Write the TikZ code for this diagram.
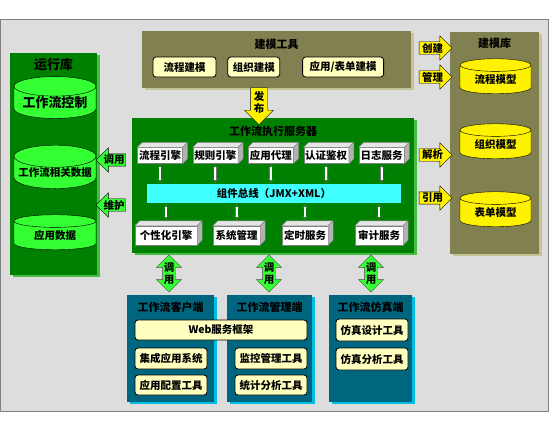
\documentclass[tikz,border=0pt]{standalone}
\usepackage{fontspec}
\setmainfont{Noto Sans CJK SC}
\usetikzlibrary{positioning,shapes.geometric,shapes.arrows,shadows,arrows.meta}

\definecolor{framegray}{RGB}{221,221,221}
\definecolor{modelolive}{RGB}{128,128,80}
\definecolor{oliveedge}{RGB}{196,196,150}
\definecolor{rungreen}{RGB}{0,128,0}
\definecolor{greenedge}{RGB}{70,190,70}
\definecolor{lightgreen}{RGB}{51,255,51}
\definecolor{busblue}{RGB}{64,255,255}
\definecolor{clientteal}{RGB}{0,102,128}
\definecolor{tealedge}{RGB}{0,190,225}
\definecolor{paleyellow}{RGB}{255,255,192}

\tikzset{
  oliveblock/.style={rectangle,inner sep=0pt,fill=modelolive,
    general shadow={fill=oliveedge,shadow xshift=3pt,shadow yshift=-2pt}},
  greenblock/.style={rectangle,inner sep=0pt,fill=rungreen,
    general shadow={fill=greenedge,shadow xshift=3pt,shadow yshift=-2pt}},
  tealblock/.style={rectangle,inner sep=0pt,fill=clientteal,
    general shadow={fill=tealedge,shadow xshift=3pt,shadow yshift=-2pt}},
  paneltitle/.style={inner sep=0pt,text=black,font=\bfseries\fontsize{11}{12}\selectfont},
  toolbox/.style={draw=black,line width=0.8pt,fill=paleyellow,rounded corners=3pt,
    minimum height=20pt,inner sep=1pt},
  store/.style={cylinder,shape border rotate=90,aspect=0.3,draw=black,
    cylinder uses custom fill,cylinder body fill=#1,cylinder end fill=#1,
    minimum height=35pt,inner sep=0pt},
  engine/.style={rectangle,draw=gray,fill=white,inner sep=0pt},
  link/.style={draw=black!55,double=white,double distance=2pt,
    {Implies}-{Implies},shorten <=1pt,shorten >=1pt},
  flowarrow/.style={single arrow,draw=black,fill=#1,single arrow head extend=6pt,
    inner sep=1pt,minimum height=33pt},
  callarrow/.style={double arrow,draw=black!70,fill=lightgreen,shape border rotate=90,
    double arrow head extend=6pt,inner sep=1pt,minimum height=37pt,align=center}
}

\begin{document}
\begin{tikzpicture}[x=1pt,y=-1pt,font=\bfseries\fontsize{10.5}{12}\selectfont]
  \useasboundingbox (0,0) rectangle (554,421);
  \draw[fill=framegray,draw=gray] (0.5,19) rectangle (548,411);

  % modelling tools
  \node[oliveblock,minimum width=269pt,minimum height=57pt] (tools) at (276.5,59.5) {};
  \node[paneltitle,below=8pt of tools.north] (toolstitle) {建模工具};
  \node[toolbox,minimum width=63pt] (flowtool) at (184.5,67) {流程建模};
  \node[toolbox,minimum width=52pt,right=11pt of flowtool] (orgtool) {组织建模};
  \node[toolbox,minimum width=81pt,right=22pt of orgtool] (apptool) {应用/表单建模};

  % model library
  \node[oliveblock,minimum width=89pt,minimum height=222pt] (modellib) at (494.5,143) {};
  \node[paneltitle,below=6pt of modellib.north] (modeltitle) {建模库};
  \node[store=yellow,minimum width=71pt] (flowmodel) at (495.5,79.5) {流程模型};
  \node[store=yellow,minimum width=71pt] (orgmodel) at (495.5,144.5) {组织模型};
  \node[store=yellow,minimum width=71pt] (formmodel) at (495.5,212.5) {表单模型};

  % runtime library
  \node[greenblock,minimum width=87pt,minimum height=222pt] (runlib) at (53.5,164) {};
  \node[paneltitle,below=5pt of runlib.north,font=\bfseries\fontsize{13}{14}\selectfont] (runtitle) {运行库};
  \node[store=lightgreen,minimum width=82pt,font=\bfseries\fontsize{13}{14}\selectfont] (wfcontrol) at (55,102.5) {工作流控制};
  \node[store=lightgreen,minimum width=82pt] (wfdata) at (55,172.5) {工作流相关数据};
  \node[store=lightgreen,minimum width=82pt] (appdata) at (55,235.5) {应用数据};

  % execution server
  \node[greenblock,minimum width=282pt,minimum height=135pt] (server) at (273,185.5) {};
  \node[paneltitle,below=8pt of server.north] (servertitle) {工作流执行服务器};
  \node[engine,minimum width=45pt,minimum height=16pt] (flow) at (160,155.5) {流程引擎};
  \node[engine,minimum width=45pt,minimum height=16pt,right=10pt of flow] (rule) {规则引擎};
  \node[engine,minimum width=45pt,minimum height=16pt,right=10pt of rule] (agent) {应用代理};
  \node[engine,minimum width=45pt,minimum height=16pt,right=10pt of agent] (auth) {认证鉴权};
  \node[engine,minimum width=45pt,minimum height=16pt,right=10pt of auth] (log) {日志服务};
  \node[fill=busblue,minimum width=254pt,minimum height=19pt,inner sep=0pt] (bus) at (274,193.5) {组件总线（JMX+XML）};
  \node[engine,minimum width=62pt,minimum height=19pt] (custom) at (166,235.5) {个性化引擎};
  \node[engine,minimum width=47pt,minimum height=19pt] (sysman) at (236.5,235.5) {系统管理};
  \node[engine,minimum width=46pt,minimum height=19pt] (timer) at (305,235.5) {定时服务};
  \node[engine,minimum width=48pt,minimum height=19pt] (audit) at (379,235.5) {审计服务};
  \foreach \n in {flow,rule,agent,auth,log,custom,sysman,timer,audit} {
    \filldraw[fill=black!10,draw=gray] (\n.north west) -- ++(5,-5)
      -- ([shift={(5,-5)}]\n.north east) -- (\n.north east) -- cycle;
    \filldraw[fill=black!30,draw=gray] (\n.north east) -- ++(5,-5)
      -- ([shift={(5,-5)}]\n.south east) -- (\n.south east) -- cycle;
  }
  \foreach \n in {flow,rule,agent,auth,log}
    \draw[link] (\n) -- (\n |- bus.north);
  \foreach \n in {custom,sysman,timer,audit}
    \draw[link,shorten >=6pt] (bus.south -| \n) -- (\n);

  % arrows between the blocks
  \node[flowarrow=yellow] (create) at (432.5,48) {创建};
  \node[flowarrow=yellow] (manage) at (432.5,77) {管理};
  \node[flowarrow=yellow] (parse) at (432.5,155) {解析};
  \node[flowarrow=yellow] (cite) at (432.5,198) {引用};
  \node[flowarrow=lightgreen,shape border rotate=180,minimum height=29pt] (invoke) at (114,160) {调用};
  \node[flowarrow=lightgreen,shape border rotate=180,minimum height=29pt] (maintain) at (114,205) {维护};
  \node[flowarrow=yellow,shape border rotate=270,minimum height=30pt,align=center,inner sep=3pt] (publish) at (259,102) {发\\布};
  \node[callarrow] (callclient) at (169,273.5) {调\\用};
  \node[callarrow] (calladmin) at (269,273.5) {调\\用};
  \node[callarrow] (callsim) at (371,273.5) {调\\用};

  % client side
  \node[tealblock,minimum width=87pt,minimum height=107pt] (client) at (170.5,348.5) {};
  \node[tealblock,minimum width=85pt,minimum height=107pt] (admin) at (269.5,348.5) {};
  \node[tealblock,minimum width=83pt,minimum height=107pt] (sim) at (370.5,348.5) {};
  \node[paneltitle,below=7pt of client.north] (clienttitle) {工作流客户端};
  \node[paneltitle,below=7pt of admin.north] (admintitle) {工作流管理端};
  \node[paneltitle,below=7pt of sim.north] (simtitle) {工作流仿真端};
  \node[toolbox,minimum width=172pt] (web) at (221,330) {Web服务框架};
  \node[toolbox,minimum width=72pt,minimum height=21pt] (integ) at (171,358.5) {集成应用系统};
  \node[toolbox,minimum width=72pt] (appcfg) at (171,385) {应用配置工具};
  \node[toolbox,minimum width=72pt,minimum height=21pt] (monitor) at (271,358.5) {监控管理工具};
  \node[toolbox,minimum width=72pt] (stats) at (271,385) {统计分析工具};
  \node[toolbox,minimum width=72pt,minimum height=22pt] (simdesign) at (372,330) {仿真设计工具};
  \node[toolbox,minimum width=72pt,minimum height=22pt] (simanalysis) at (372,359) {仿真分析工具};
\end{tikzpicture}
\end{document}
